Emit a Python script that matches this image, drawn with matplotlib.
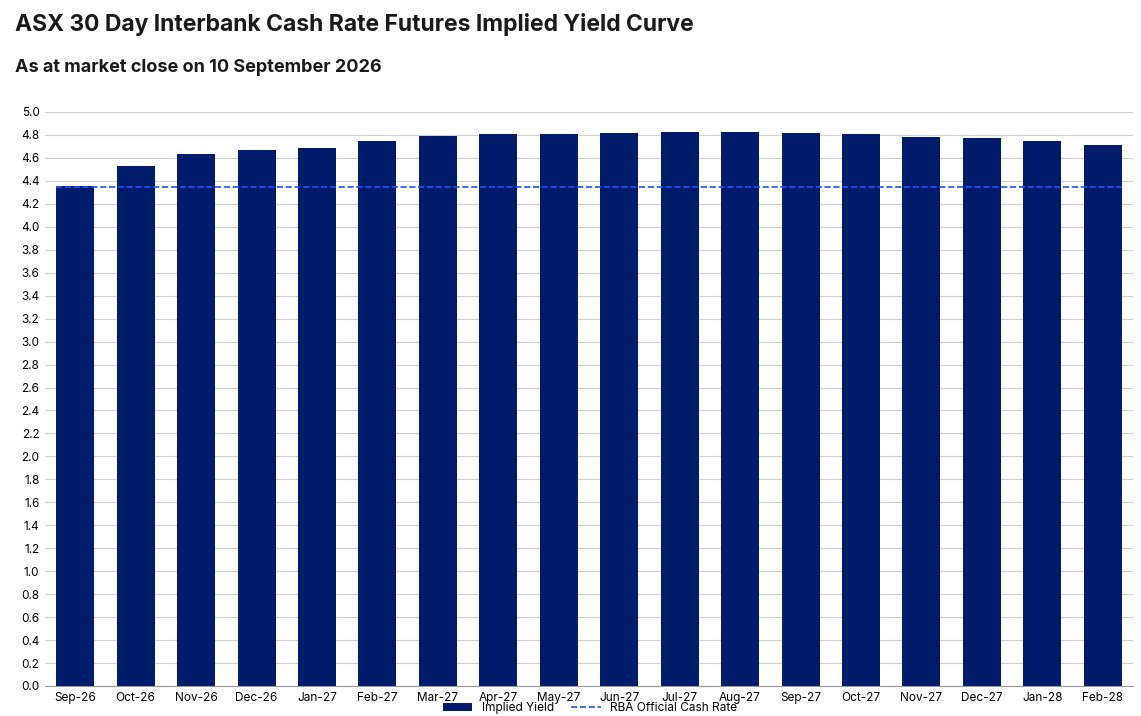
import matplotlib.pyplot as plt
import numpy as np

plt.rcParams['font.family'] = ['Inter', 'DejaVu Sans']

months = ["Sep-26", "Oct-26", "Nov-26", "Dec-26", "Jan-27", "Feb-27", "Mar-27", "Apr-27", "May-27",
          "Jun-27", "Jul-27", "Aug-27", "Sep-27", "Oct-27", "Nov-27", "Dec-27", "Jan-28", "Feb-28"]
implied_yield = [4.355, 4.53, 4.63, 4.67, 4.69, 4.75, 4.79, 4.81, 4.81,
                 4.82, 4.83, 4.83, 4.82, 4.81, 4.785, 4.77, 4.75, 4.71]
cash_rate = 4.35

fig = plt.figure(figsize=(11.41, 7.16), dpi=100)
ax = fig.add_axes([45 / 1141, 1 - 686 / 716, 1088 / 1141, 574 / 716])

x = np.arange(len(months))
ax.bar(x, implied_yield, width=0.63, color='#001c6b', label='Implied Yield', zorder=2)
ax.plot([-0.32, len(months) - 1 + 0.32], [cash_rate, cash_rate], '--', color='#1f4fff',
        lw=1.2, label='RBA Official Cash Rate', zorder=3)

ax.set_xlim(-0.5, len(months) - 0.5)
ax.set_ylim(0, 5.0)
ax.set_yticks(np.arange(0, 5.01, 0.2))
ax.set_yticklabels([f"{v:.1f}" for v in np.arange(0, 5.01, 0.2)])
ax.set_xticks(x)
ax.set_xticklabels(months)
ax.tick_params(labelsize=8.5, length=0, pad=4)
ax.grid(axis='y', color='#d0d0d0', lw=0.8, zorder=0)
for s in ['top', 'right', 'left']:
    ax.spines[s].set_visible(False)
ax.spines['bottom'].set_color('#999999')

fig.text(15 / 1141, 1 - 25 / 716, "ASX 30 Day Interbank Cash Rate Futures Implied Yield Curve",
         fontsize=16.5, fontweight='bold', va='center', color='#1a1a1a')
fig.text(15 / 1141, 1 - 68 / 716, "As at market close on 10 September 2026",
         fontsize=13, fontweight='bold', va='center', color='#1a1a1a')

handles, labels = ax.get_legend_handles_labels()
order = [labels.index('Implied Yield'), labels.index('RBA Official Cash Rate')]
fig.legend([handles[i] for i in order], [labels[i] for i in order],
           loc='center', bbox_to_anchor=(590 / 1141, 1 - 708 / 716), ncol=2, frameon=False,
           fontsize=8.5, handlelength=2.5, columnspacing=1.5, borderpad=0)

fig.savefig('out.png', dpi=100)
